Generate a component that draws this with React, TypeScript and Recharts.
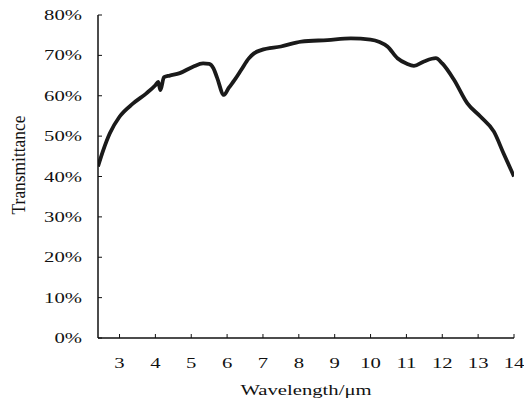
import { LineChart, Line, XAxis, YAxis, Label } from "recharts";

// transmittance spectrum
const wavelength = [
  2.4, 2.55, 2.73, 3.0, 3.38, 3.75, 4.0, 4.08, 4.14, 4.24, 4.4, 4.68, 5.05,
  5.33, 5.5, 5.62, 5.72, 5.91, 6.05, 6.2, 6.4, 6.6, 6.75, 6.95, 7.5, 8.07,
  8.8, 9.45, 10.0, 10.25, 10.47, 10.75, 11.0, 11.21, 11.49, 11.82, 12.0,
  12.33, 12.7, 13.07, 13.44, 13.71, 14.0,
];
const transmittance = [
  42.5, 46.6, 50.7, 54.8, 58.1, 60.6, 62.6, 63.4, 61.4, 64.6, 65.0, 65.6,
  67.2, 68.0, 67.9, 66.8, 64.5, 60.2, 62.0, 63.8, 66.5, 69.2, 70.5, 71.3,
  72.2, 73.4, 73.8, 74.2, 73.9, 73.3, 72.2, 69.3, 68.0, 67.4, 68.5, 69.3,
  68.0, 63.9, 58.1, 54.8, 51.1, 45.7, 40.0,
];
const xTicks = [3, 4, 5, 6, 7, 8, 9, 10, 11, 12, 13, 14];
const yTicks = [0, 10, 20, 30, 40, 50, 60, 70, 80];

const data = wavelength.map((w, i) => ({ w, t: transmittance[i] }));

const font = {
  fontFamily: "'Liberation Serif', 'Times New Roman', serif",
  fontSize: 15,
  fill: "#111",
};
// the original figure is stretched sideways, so is its text
const SX = 1.38;

function XTick({ x, y, payload }: any) {
  return (
    <g transform={`translate(${x},${y}) scale(${SX},1)`}>
      <text textAnchor="middle" dy="0.71em" style={font}>
        {payload.value}
      </text>
    </g>
  );
}

function YTick({ x, y, payload }: any) {
  return (
    <g transform={`translate(${x},${y}) scale(${SX},1)`}>
      <text textAnchor="end" dy="0.34em" style={font}>
        {`${payload.value}%`}
      </text>
    </g>
  );
}

export default function App() {
  return (
    <div style={{ position: "absolute", left: 0, top: 0, background: "#fff" }}>
      <LineChart
        width={524}
        height={402}
        data={data}
        margin={{ top: 15, right: 10, bottom: 7, left: 38 }}
      >
        <XAxis
          dataKey="w"
          type="number"
          domain={[2.4, 14]}
          ticks={xTicks}
          allowDataOverflow
          height={57}
          tickSize={-4}
          tickMargin={23}
          tick={<XTick />}
          axisLine={{ stroke: "#111", strokeWidth: 1.5 }}
          tickLine={{ stroke: "#111" }}
        >
          <Label
            content={() => (
              <g transform={`translate(306,395) scale(${SX},1)`}>
                <text textAnchor="middle" style={font}>
                  Wavelength/μm
                </text>
              </g>
            )}
          />
        </XAxis>
        <XAxis
          xAxisId="top"
          orientation="top"
          dataKey="w"
          type="number"
          domain={[2.4, 14]}
          height={0}
          tick={false}
          tickLine={false}
          axisLine={{ stroke: "#444", strokeWidth: 1.5 }}
        />
        <YAxis
          type="number"
          domain={[0, 80]}
          ticks={yTicks}
          width={60}
          tickSize={-4}
          tickMargin={20}
          tick={<YTick />}
          axisLine={{ stroke: "#111", strokeWidth: 1.5 }}
          tickLine={{ stroke: "#111" }}
        >
          <Label
            content={() => (
              <g transform="translate(25,165) scale(1.32,1.16) rotate(-90)">
                <text textAnchor="middle" style={font}>
                  Transmittance
                </text>
              </g>
            )}
          />
        </YAxis>
        <YAxis
          yAxisId="right"
          orientation="right"
          domain={[0, 80]}
          width={0}
          tick={false}
          tickLine={false}
          axisLine={{ stroke: "#111", strokeWidth: 1.5 }}
        />
        <Line
          type="monotone"
          dataKey="t"
          stroke="#1a1a1a"
          strokeWidth={3.8}
          dot={false}
          isAnimationActive={false}
        />
      </LineChart>
    </div>
  );
}
